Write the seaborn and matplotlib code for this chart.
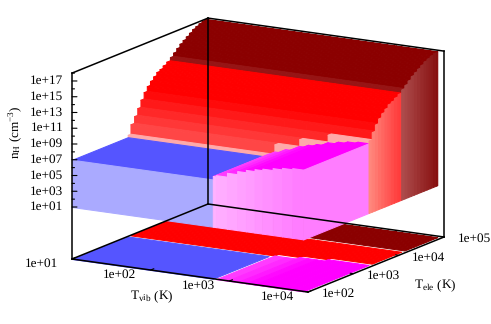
import matplotlib
matplotlib.use("Agg")
import matplotlib.pyplot as plt
import seaborn as sns
from mpl_toolkits.mplot3d import proj3d
from mpl_toolkits.mplot3d.art3d import Poly3DCollection

# all values are log10 of the quantity
tvib_max = 3.94
tele_min = 2.0
tele_max = 4.955
floor_nh = 1.0

blue_nh = 7.0
blue_tvib_end = 2.79
blue_tele_end = 3.23

# red / dark red sheet, one entry per row of the grid
row_tele = [3.23, 3.29, 3.37, 3.44, 3.51, 3.58, 3.65, 3.72, 3.79, 3.86, 3.93, 4.00, 4.08,
            4.16, 4.23, 4.30, 4.37, 4.44, 4.51, 4.58, 4.65, 4.72, 4.79, 4.86, 4.93]
row_nh = [7.3, 8.5, 9.35, 10.2, 11.1, 11.9, 12.5, 13.0, 13.4, 13.8, 14.0, 14.3, 14.6,
          15.0, 15.4, 15.8, 16.2, 16.5, 16.8, 17.1, 17.4, 17.6, 17.8, 17.95, 18.0]
dark_from_row = 13

# the sheet starts at a later row where the magenta part sits in front of it
step_tvib = [1.0, 2.83, 3.10, 3.42, 3.94]
step_first_row = [0, 1, 2, 3]

# magenta part, one entry per column
col_tvib = [2.79, 2.83, 2.97, 3.10, 3.21, 3.32, 3.42, 3.55, 3.67, 3.80, 3.94]
col_nh = [7.44, 7.6, 8.1, 8.5, 8.8, 9.05, 9.25, 9.5, 9.7, 9.85, 10.05]
col_tele_top = [3.23, 3.29, 3.29, 3.37, 3.37, 3.37, 3.44, 3.44, 3.44, 3.44]

nh_ticks = [1, 3, 5, 7, 9, 11, 13, 15, 17]
nh_minor = [2, 4, 6, 8, 10, 12, 14, 16, 18]
tvib_ticks = [1, 2, 3, 4]
tele_ticks = [2, 3, 4, 5]
nh_labels = ["1e+01", "1e+03", "1e+05", "1e+07", "1e+09", "1e+11", "1e+13", "1e+15", "1e+17"]
tvib_labels = ["1e+01", "1e+02", "1e+03", "1e+04"]
tele_labels = ["1e+02", "1e+03", "1e+04", "1e+05"]

sns.set_theme(style="white")
plt.rcParams["font.family"] = ["Liberation Serif", "DejaVu Serif"]
plt.rcParams["mathtext.fontset"] = "custom"
plt.rcParams["mathtext.rm"] = "Liberation Serif"
plt.rcParams["mathtext.it"] = "Liberation Serif:italic"
plt.rcParams["text.hinting"] = "none"

BLUE = "#5555ff"
BLUE_WALL = "#aaaaff"
PALE = "#ffaaaa"
RED = "#ff0000"
DARK = "#8b0000"
band_colors = ["#ffaaaa", "#ff4646", "#ff3737", "#ff2828", "#ff1919", "#ff0a0a"]

n_cols = len(col_nh) - 1
col_top_colors = sns.blend_palette(["#ff4bff", "#ff00ff", "#ff00ff"], n_cols)
col_wall_colors = sns.blend_palette(["#ffb2ff", "#ff7dff"], n_cols)
red_wall_colors = sns.blend_palette(["#ff877d", "#ff3c3c"], dark_from_row - 3)
dark_wall_colors = sns.blend_palette(["#ac4b4b", "#870f0f"], len(row_nh) - dark_from_row)

W, H = 491, 324
fig = plt.figure(figsize=(W / 100, H / 100), dpi=100)
ax = fig.add_axes([-0.5, -0.5, 2, 2], projection="3d", proj_type="ortho", computed_zorder=False)
ax.set_axis_off()
ax.view_init(elev=13.76, azim=-59.54)

zb = -5.6
ax.set_xlim(1, 4, view_margin=0)
ax.set_ylim(2, 5, view_margin=0)
ax.set_zlim(zb, 18, view_margin=0)
box_shape = (273.8, 268.3, 191.4)
zoom = 1.0
ax.set_box_aspect(box_shape, zoom=zoom)


def to_px(x, y, z):
    xs, ys, _ = proj3d.proj_transform(x, y, z, ax.get_proj())
    return ax.transData.transform((xs, ys))


# scale and shift the box so that its corners land where they are in the reference
for _ in range(3):
    ax.apply_aspect()
    p0, p1 = to_px(1, 2, zb), to_px(4, 2, zb)
    zoom *= 236 / (p1[0] - p0[0])
    ax.set_box_aspect(box_shape, zoom=zoom)
    ax.apply_aspect()
    p0 = to_px(1, 2, zb)
    pos = ax.get_position(original=True)
    ax.set_position([pos.x0 + (72 - p0[0]) / W, pos.y0 + (H - 259 - p0[1]) / H, pos.width, pos.height])
ax.apply_aspect()

order = [10]


def poly(verts, color):
    order[0] += 1
    pc = Poly3DCollection([verts], facecolors=color, edgecolors=color, linewidths=0.75, zorder=order[0])
    ax.add_collection3d(pc)


def flat(x0, x1, y0, y1, z, color):
    poly([(x0, y0, z), (x1, y0, z), (x1, y1, z), (x0, y1, z)], color)


def wall_x(x, y0, y1, z0, z1, color):
    poly([(x, y0, z0), (x, y1, z0), (x, y1, z1), (x, y0, z1)], color)


def wall_y(y, x0, x1, z0, z1, color):
    poly([(x0, y, z0), (x1, y, z0), (x1, y, z1), (x0, y, z1)], color)


def row_end(i):
    return row_tele[i + 1] if i + 1 < len(row_tele) else tele_max


def row_color(i, first):
    if i >= dark_from_row:
        return "#961414" if i == dark_from_row else DARK
    if i == first:
        return PALE
    return band_colors[i] if i < len(band_colors) else RED


# map on the base plane, white gaps where a region starts
for s, first in enumerate(step_first_row):
    for i in range(len(row_nh) - 1, first, -1):
        if i == dark_from_row:
            continue
        color = DARK if i > dark_from_row else RED
        flat(step_tvib[s], step_tvib[s + 1], row_tele[i], row_end(i), zb, color)
flat(1, blue_tvib_end, tele_min, blue_tele_end, zb, BLUE)
for c in range(1, n_cols):
    flat(col_tvib[c], col_tvib[c + 1], tele_min, col_tele_top[c], zb, col_top_colors[c])

# red sheet, back rows first
for i in range(len(row_nh) - 1, -1, -1):
    low = row_nh[i - 1] if i > 0 else blue_nh
    for s, first in enumerate(step_first_row):
        if i < first:
            continue
        color = row_color(i, first)
        wall_y(row_tele[i], step_tvib[s], step_tvib[s + 1], low, row_nh[i], color)
        flat(step_tvib[s], step_tvib[s + 1], row_tele[i], row_end(i), row_nh[i], color)

# blue plateau
flat(1, blue_tvib_end, tele_min, blue_tele_end, blue_nh, BLUE)

# magenta part, far columns first
for c in range(n_cols):
    if c > 0:
        wall_x(col_tvib[c], tele_min, col_tele_top[c], col_nh[c - 1], col_nh[c], col_top_colors[c])
    flat(col_tvib[c], col_tvib[c + 1], tele_min, col_tele_top[c], col_nh[c], col_top_colors[c])

# walls down to the floor of the surface
wall_y(tele_min, 1, blue_tvib_end, floor_nh, blue_nh, BLUE_WALL)
for c in range(n_cols):
    wall_y(tele_min, col_tvib[c], col_tvib[c + 1], floor_nh, col_nh[c], col_wall_colors[c])
wall_x(tvib_max, tele_min, row_tele[3], floor_nh, col_nh[-2], col_wall_colors[-1])
for i in range(3, len(row_nh)):
    if i < dark_from_row:
        color = red_wall_colors[i - 3]
    else:
        color = dark_wall_colors[i - dark_from_row]
    wall_x(tvib_max, row_tele[i], row_end(i), floor_nh, row_nh[i], color)

# box and ticks on top of everything
box_lines = [
    ((1, 1), (2, 2), (zb, 18)),
    ((1, 1), (5, 5), (zb, 18)),
    ((4, 4), (5, 5), (zb, 18)),
    ((1, 1), (2, 5), (18, 18)),
    ((1, 4), (5, 5), (18, 18)),
    ((1, 4), (2, 2), (zb, zb)),
    ((4, 4), (2, 5), (zb, zb)),
    ((1, 1), (2, 5), (zb, zb)),
    ((1, 4), (5, 5), (zb, zb)),
]
for xs, ys, zs in box_lines:
    ax.plot(xs, ys, zs, color="black", lw=1.1, zorder=5000, solid_capstyle="projecting")

for z in nh_ticks:
    ax.plot([1, 1.047], [2, 2.028], [z, z], color="black", lw=0.8, zorder=5000)
for z in nh_minor:
    ax.plot([1, 1.024], [2, 2.014], [z, z], color="black", lw=0.8, zorder=5000)
for x in tvib_ticks:
    ax.plot([x, x], [2, 2.07], [zb, zb], color="black", lw=0.8, zorder=5000)
for y in tele_ticks:
    ax.plot([3.96, 4], [y, y], [zb, zb], color="black", lw=0.8, zorder=5000)


def label(x, y, z, text, dx, dy, **kw):
    xs, ys, _ = proj3d.proj_transform(x, y, z, ax.get_proj())
    ax.annotate(text, xy=(xs, ys), xytext=(dx, dy), textcoords="offset pixels",
                fontsize=9.5, color="black", annotation_clip=False, zorder=6000, **kw)


for z, t in zip(nh_ticks, nh_labels):
    label(1, 2, z, t, -8.5, 0, ha="right", va="center")
for x, t in zip(tvib_ticks, tvib_labels):
    label(x, 2, zb, t, -31, -5, ha="center", va="center")
for y, t in zip(tele_ticks, tele_labels):
    label(4, y, zb, t, 30, -2, ha="center", va="center")

label(2.5, 2, zb, r"T$_{\mathrm{vib}}$ (K)", -38, -20.5, ha="center", va="center")
label(4, 3.5, zb, r"T$_{\mathrm{ele}}$ (K)", 59, -21, ha="center", va="center")
label(1, 2, 9, r"n$_{\mathrm{H}}$ (cm$^{-3}$)", -57, 12, ha="center", va="center", rotation=90)

fig.savefig("out.png", dpi=100)
